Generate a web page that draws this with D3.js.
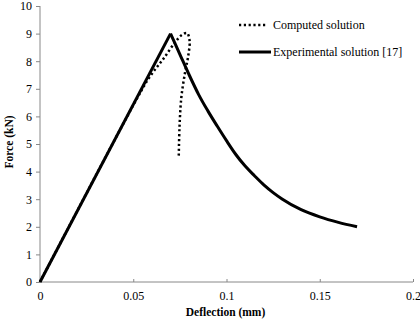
<!DOCTYPE html>
<html>
<head>
<script src="https://d3js.org/d3.v7.min.js"></script>
</head>
<body style="margin:0;background:#fff">
<svg id="chart" width="420" height="321"></svg>
<script>
// x ticks and y ticks
var xTicks = [0, 0.05, 0.1, 0.15, 0.2];
var yTicks = [0, 1, 2, 3, 4, 5, 6, 7, 8, 9, 10];

// Computed solution (deflection mm, force kN)
var computedX = [0, 0.052, 0.059, 0.0663, 0.0726, 0.0761, 0.0788, 0.0802, 0.0795, 0.0778, 0.0758, 0.0748, 0.0744];
var computedY = [0, 6.65, 7.45, 8.1, 8.7, 8.95, 9.02, 8.75, 8.2, 7.6, 6.7, 5.6, 4.55];

// Experimental solution [17]
var experimentalX = [0, 0.07, 0.075, 0.08, 0.085, 0.09, 0.095, 0.1, 0.105, 0.11, 0.115, 0.12, 0.125, 0.13, 0.14, 0.15, 0.16, 0.17];
var experimentalY = [0, 9.0, 8.25, 7.5, 6.8, 6.2, 5.65, 5.12, 4.62, 4.2, 3.85, 3.52, 3.24, 3.0, 2.62, 2.36, 2.16, 2.0];

var FONT = '"Liberation Serif", "Times New Roman", serif';

var svg = d3.select("#chart");
var margin = {left: 40, right: 7, top: 6, bottom: 39};
var width = 420 - margin.left - margin.right,
    height = 321 - margin.top - margin.bottom;

var g = svg.append("g").attr("transform", "translate(" + margin.left + "," + margin.top + ")");

var x = d3.scaleLinear().domain([0, 0.2]).range([0, width]);
var y = d3.scaleLinear().domain([0, 10]).range([height, 0]);

// y axis
var yAxis = g.append("g")
  .call(d3.axisLeft(y).tickValues(yTicks).tickSize(4).tickFormat(d3.format("d")));
yAxis.attr("font-family", null);
yAxis.selectAll("line, path").attr("stroke", "#888");
yAxis.select(".domain").attr("d", "M0," + height + "V0");
yAxis.selectAll("text").attr("x", -8).style("font-family", FONT).style("font-size", "12px").attr("fill", "#000");

// x axis
var xAxis = g.append("g")
  .attr("transform", "translate(0," + height + ")")
  .call(d3.axisBottom(x).tickValues(xTicks).tickSize(-3).tickFormat(function(d){ return d === 0 ? "0" : String(d); }));
xAxis.attr("font-family", null);
xAxis.selectAll("line, path").attr("stroke", "#888");
xAxis.select(".domain").attr("d", "M0,0H" + width);
xAxis.selectAll("text").attr("y", 9).style("font-family", FONT).style("font-size", "12px").attr("fill", "#000");

// axis titles
g.append("text")
  .attr("x", width / 2 - 1).attr("y", height + 34)
  .attr("text-anchor", "middle")
  .style("font-family", FONT)
  .style("font-size", "11.5px").style("font-weight", "bold")
  .text("Deflection (mm)");

svg.append("text")
  .attr("transform", "translate(13," + 142 + ") rotate(-90)")
  .attr("text-anchor", "middle")
  .style("font-family", FONT)
  .style("font-size", "11.5px").style("font-weight", "bold")
  .text("Force (kN)");

var line = d3.line()
  .x(function(d){ return x(d[0]); })
  .y(function(d){ return y(d[1]); });

var expData = experimentalX.map(function(v, i){ return [v, experimentalY[i]]; });
var compData = computedX.map(function(v, i){ return [v, computedY[i]]; });

// rising part straight, falling part smoothed
var peak = d3.maxIndex(experimentalY);
g.append("path")
  .datum(expData.slice(0, peak + 1))
  .attr("d", line.curve(d3.curveLinear))
  .attr("fill", "none")
  .attr("stroke", "#000")
  .attr("stroke-width", 3)
  .attr("stroke-linejoin", "round");
g.append("path")
  .datum(expData.slice(peak))
  .attr("d", line.curve(d3.curveMonotoneX))
  .attr("fill", "none")
  .attr("stroke", "#000")
  .attr("stroke-width", 3);

g.append("path")
  .datum(compData)
  .attr("d", line.curve(d3.curveCatmullRom.alpha(0.5)))
  .attr("fill", "none")
  .attr("stroke", "#000")
  .attr("stroke-width", 2.5)
  .attr("stroke-dasharray", "2.2,2.6");

// legend
var legend = svg.append("g").attr("transform", "translate(239,25)");
legend.append("line").attr("x1", 0).attr("x2", 28).attr("y1", 0).attr("y2", 0)
  .attr("stroke", "#000").attr("stroke-width", 2.5).attr("stroke-dasharray", "2.2,2.6");
legend.append("text").attr("x", 34).attr("y", 4).style("font-family", FONT).style("font-size", "12px").text("Computed solution");
legend.append("line").attr("x1", 0).attr("x2", 32).attr("y1", 27).attr("y2", 27)
  .attr("stroke", "#000").attr("stroke-width", 3);
legend.append("text").attr("x", 34).attr("y", 31).style("font-family", FONT).style("font-size", "12px").text("Experimental solution [17]");
</script>
</body>
</html>
